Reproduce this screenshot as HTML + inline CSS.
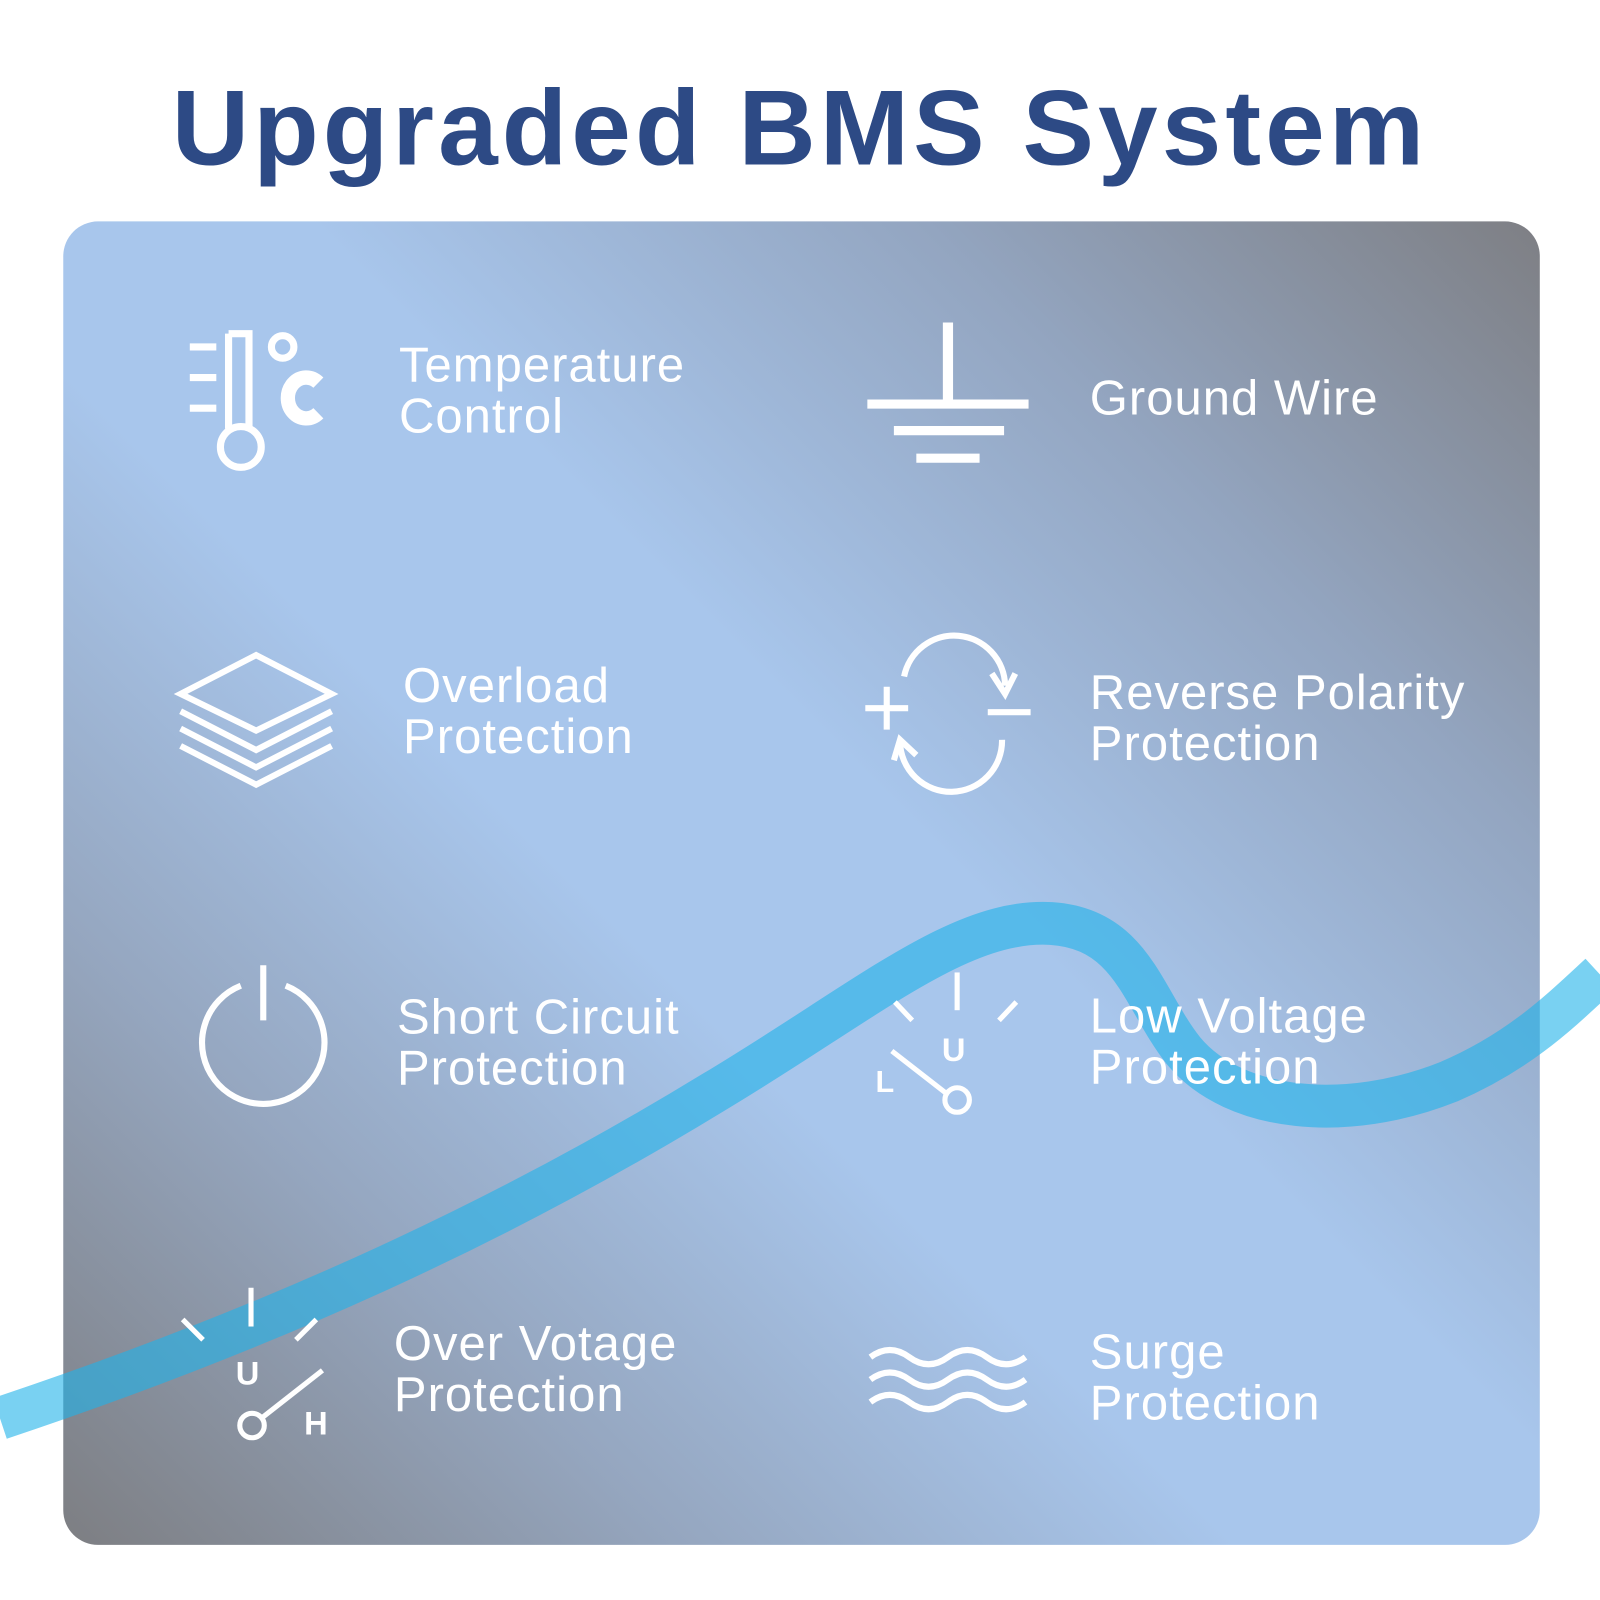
<!DOCTYPE html>
<html><head><style>
html,body{margin:0;padding:0;background:#fff;width:1600px;height:1600px;overflow:hidden}
#w{position:absolute;left:0;top:0;width:1568px;height:1568px;transform:scale(1.020408);transform-origin:0 0}
h1{position:absolute;left:0;width:1568px;top:66px;margin:0;text-align:center;font:bold 105px/120px "Liberation Sans",sans-serif;color:#2d4a85;letter-spacing:4px}
#panel{position:absolute;left:62px;top:217px;width:1447px;height:1297px;border-radius:34px;overflow:hidden;
background:linear-gradient(45deg,#7d7e82 0%,#95a6bf 22%,#a8c6ec 42%,#a8c6ec 56%,#93a5c0 78%,#7e7f84 100%)}
.t{position:absolute;color:#fff;font:48px/50px "Liberation Sans",sans-serif;letter-spacing:1px;white-space:nowrap}
svg{position:absolute;left:0;top:0}
</style></head><body><div id="w">
<h1>Upgraded BMS System</h1>
<div id="panel"></div>
<svg width="1568" height="1568" viewBox="0 0 1568 1568">
<path d="M0,1390 C300,1290 520,1180 700,1070 C850,980 940,900 1030,905 C1110,910 1120,980 1160,1030 C1210,1090 1320,1100 1420,1060 C1490,1030 1530,990 1568,955" fill="none" stroke="#1fb2ea" stroke-opacity="0.6" stroke-width="42"/>
<g fill="none" stroke="#fff" stroke-width="7">
<line x1="186" y1="340" x2="212" y2="340"/><line x1="186" y1="370" x2="212" y2="370"/><line x1="186" y1="400" x2="212" y2="400"/>
<path d="M224,327 H244 V420 M224,327 V420"/>
<circle cx="236" cy="438" r="20"/>
<circle cx="277" cy="340" r="11"/>
<path d="M312,375 A18,20 0 1 0 312,405" stroke-width="14"/>
<line x1="929" y1="316" x2="929" y2="392" stroke-width="10"/>
<line x1="850" y1="396" x2="1008" y2="396" stroke-width="9"/>
<line x1="876" y1="422" x2="984" y2="422" stroke-width="9"/>
<line x1="898" y1="449" x2="960" y2="449" stroke-width="9"/>
<polygon points="251,642 325,680 251,716 177,680" stroke-width="6"/>
<path d="M177,697 L251,735 L325,697 M177,714 L251,752 L325,714 M177,731 L251,769 L325,731" stroke-width="6"/>
<path d="M886,663 A50,50 0 0 1 985,672" stroke-width="6"/><path d="M972,660 L985,680 L995,660" stroke-width="6"/>
<path d="M982,725 A50,50 0 0 1 882,727" stroke-width="6"/><path d="M876,745 L882,725 L898,740" stroke-width="6"/>
<line x1="848" y1="694" x2="890" y2="694" stroke-width="6"/><line x1="869" y1="673" x2="869" y2="715" stroke-width="6"/>
<line x1="968" y1="698" x2="1010" y2="698" stroke-width="6"/>
<path d="M236,966 A60,60 0 1 0 280,966" stroke-width="6"/>
<line x1="258" y1="946" x2="258" y2="1000" stroke-width="6"/>
<line x1="938" y1="953" x2="938" y2="990" stroke-width="5"/>
<line x1="877" y1="982" x2="894" y2="1000" stroke-width="5"/><line x1="996" y1="982" x2="979" y2="1000" stroke-width="5"/>
<line x1="874" y1="1030" x2="928" y2="1072" stroke-width="5"/><circle cx="938" cy="1078" r="12" stroke-width="5"/>
<line x1="246" y1="1262" x2="246" y2="1300" stroke-width="5"/>
<line x1="179" y1="1293" x2="199" y2="1313" stroke-width="5"/><line x1="310" y1="1293" x2="290" y2="1313" stroke-width="5"/>
<line x1="316" y1="1343" x2="256" y2="1390" stroke-width="5"/><circle cx="247" cy="1397" r="12" stroke-width="5"/>
<path d="M853,1330 q19,-14 38,0 t38,0 t38,0 t38,0 M853,1352 q19,-14 38,0 t38,0 t38,0 t38,0 M853,1374 q19,-14 38,0 t38,0 t38,0 t38,0" stroke-width="6"/>
</g>
<g fill="#fff" font-family="Liberation Sans,sans-serif" font-weight="bold">
<text x="923" y="1040" font-size="32">U</text>
<text x="858" y="1070" font-size="30">L</text>
<text x="231" y="1357" font-size="32">U</text>
<text x="298" y="1406" font-size="32">H</text>
</g>
</svg>
<div class="t" style="left:391px;top:334px">Temperature<br>Control</div>
<div class="t" style="left:395px;top:648px">Overload<br>Protection</div>
<div class="t" style="left:389px;top:973px">Short Circuit<br>Protection</div>
<div class="t" style="left:386px;top:1293px">Over Votage<br>Protection</div>
<div class="t" style="left:1068px;top:366px">Ground Wire</div>
<div class="t" style="left:1068px;top:655px">Reverse Polarity<br>Protection</div>
<div class="t" style="left:1068px;top:972px">Low Voltage<br>Protection</div>
<div class="t" style="left:1068px;top:1301px">Surge<br>Protection</div>
</div></body></html>
